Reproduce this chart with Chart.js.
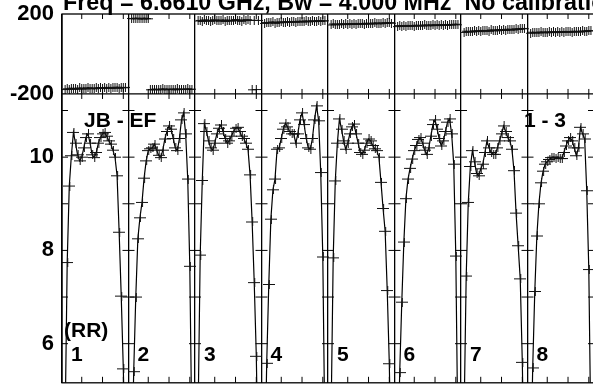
<!DOCTYPE html>
<html>
<head>
<meta charset="utf-8">
<script src="https://cdn.jsdelivr.net/npm/chart.js@4/dist/chart.umd.min.js"></script>
<style>
  html, body { margin: 0; padding: 0; background: #fff; overflow: hidden; }
  #wrap { position: absolute; left: 0; top: -20px; width: 600px; height: 408px; }
</style>
</head>
<body>
<div id="wrap"><canvas id="possm" width="600" height="408"></canvas></div>
<script>
// spectral channels shown in each IF (32 channels per IF)
const channels = [2, 3, 4, 5, 6, 7, 8, 9, 10, 11, 12, 13, 14, 15, 16, 17, 18, 19, 20, 21, 22, 23, 24, 25, 26, 27, 28, 29, 30, 31];
const ifLabels = ['1', '2', '3', '4', '5', '6', '7', '8'];
const ampTicks = [6, 8, 10];
const phaseTicks = [-200, 0, 200];

// amplitude per IF
const amp1 = [4.3, 7.74, 9.38, 10.03, 10.53, 10.3, 10.05, 9.92, 10.0, 10.2, 10.42, 10.5, 10.3, 10.05, 9.99, 10.1, 10.3, 10.42, 10.5, 10.53, 10.45, 10.35, 10.28, 10.15, 10.0, 9.6, 8.39, 7.02, 5.46, 3.5];
const amp2 = [3.0, 5.4, 7.0, 8.25, 8.7, 9.03, 9.55, 9.92, 10.14, 10.18, 10.2, 10.28, 10.15, 10.04, 9.99, 10.15, 10.39, 10.55, 10.67, 10.6, 10.4, 10.2, 10.14, 10.4, 10.8, 10.95, 10.5, 9.53, 7.66, 4.0];
const amp3 = [4.5, 7.9, 9.5, 10.72, 10.55, 10.35, 10.2, 10.15, 10.3, 10.5, 10.62, 10.69, 10.55, 10.4, 10.3, 10.35, 10.45, 10.55, 10.62, 10.64, 10.55, 10.45, 10.4, 10.3, 10.17, 9.62, 8.61, 7.31, 5.73, 3.0];
const amp4 = [3.0, 5.58, 7.27, 8.67, 9.3, 9.53, 10.17, 10.2, 10.4, 10.6, 10.73, 10.65, 10.55, 10.5, 10.5, 10.3, 10.5, 10.8, 10.95, 10.7, 10.4, 10.2, 10.17, 10.4, 10.8, 11.1, 10.78, 9.67, 7.86, 4.0];
const amp5 = [4.5, 7.84, 9.49, 10.3, 10.82, 10.6, 10.35, 10.17, 10.3, 10.5, 10.65, 10.71, 10.5, 10.3, 10.1, 10.06, 10.15, 10.3, 10.39, 10.35, 10.25, 10.18, 10.14, 10.0, 9.46, 8.9, 8.41, 7.14, 5.57, 3.0];
const amp6 = [3.0, 5.38, 6.89, 8.18, 9.11, 9.53, 9.76, 9.96, 10.14, 10.25, 10.38, 10.42, 10.3, 10.15, 10.06, 10.2, 10.45, 10.7, 10.8, 10.6, 10.4, 10.24, 10.35, 10.55, 10.75, 10.82, 10.5, 9.85, 7.88, 4.0];
const amp7 = [4.5, 7.45, 9.03, 9.8, 10.14, 9.9, 9.65, 9.6, 9.75, 9.85, 10.1, 10.35, 10.2, 10.1, 10.06, 10.06, 10.2, 10.35, 10.5, 10.67, 10.55, 10.42, 10.35, 10.17, 9.71, 8.8, 8.1, 7.39, 5.6, 3.0];
const amp8 = [3.0, 5.48, 7.12, 8.31, 9.0, 9.45, 9.7, 9.85, 9.9, 9.95, 9.99, 10.0, 9.98, 10.0, 9.97, 9.97, 10.1, 10.24, 10.35, 10.42, 10.35, 10.2, 10.03, 10.2, 10.64, 10.5, 10.39, 9.28, 7.59, 4.0];

// phase (degrees) per IF
const ph1 = [-178, -174, -177, -171, -175, -173, -176, -170, -174, -172, -175, -169, -173, -171, -174, -170, -172, -168, -173, -170, -171, -167, -172, -169, -170, -166, -171, -168, -169, -167];
const ph2 = [178, 176, 179, 177, 178, 175, 179, 177, 176, -179, -178, -176, -179, -177, -178, -175, -179, -176, -178, -177, -176, -179, -175, -178, -177, -176, -178, -175, -177, -176];
const ph3 = [165, 168, 163, 170, 166, 169, 164, 167, 171, 165, 168, 166, 170, 163, 167, 169, 165, 168, 172, 166, 169, 164, 170, 167, 171, 168, -179, 169, -178, 168];
const ph4 = [153, 158, 155, 157, 160, 154, 158, 156, 161, 157, 159, 162, 158, 160, 163, 159, 161, 164, 160, 162, 165, 161, 163, 166, 162, 164, 167, 163, 165, 166];
const ph5 = [145, 150, 147, 149, 146, 151, 148, 150, 147, 152, 149, 151, 148, 153, 150, 152, 149, 154, 151, 153, 150, 155, 152, 154, 151, 156, 153, 155, 157, 154];
const ph6 = [137, 142, 139, 141, 138, 143, 140, 142, 139, 144, 141, 143, 140, 145, 142, 144, 141, 146, 143, 145, 142, 147, 144, 146, 143, 148, 145, 147, 149, 146];
const ph7 = [108, 114, 111, 113, 110, 116, 113, 115, 112, 118, 115, 117, 114, 120, 117, 119, 116, 122, 119, 121, 118, 124, 121, 123, 120, 126, 123, 125, 128, 126];
const ph8 = [104, 109, 106, 108, 105, 110, 107, 109, 106, 111, 108, 110, 107, 112, 109, 111, 108, 113, 110, 112, 109, 114, 111, 113, 110, 115, 112, 114, 117, 115];

const ampByIf = [amp1, amp2, amp3, amp4, amp5, amp6, amp7, amp8];
const phByIf = [ph1, ph2, ph3, ph4, ph5, ph6, ph7, ph8];
const nChan = 32;
const FONT = '"Liberation Sans", Arial, Helvetica, sans-serif';

// "+" marker, wider than tall like the AIPS plot
function cross(w, h) {
  const c = document.createElement('canvas');
  c.width = w;
  c.height = h;
  const g = c.getContext('2d');
  g.fillStyle = '#111';
  g.fillRect(0, Math.floor(h / 2), w, 1);
  g.fillRect(Math.floor(w / 2), 0, 1, h);
  return c;
}
const ampMark = cross(12, 9);
const phMark = cross(9, 9);

function pts(i, vals) {
  return channels.map((c, k) => ({ x: i * nChan + c - 0.5, y: vals[k] }));
}

const datasets = [];
ifLabels.forEach((lab, i) => {
  datasets.push({
    label: 'amp IF ' + lab,
    yAxisID: 'amp',
    data: pts(i, ampByIf[i]),
    borderColor: '#000',
    borderWidth: 1.2,
    pointStyle: ampMark,
    pointRadius: 3,
    tension: 0
  });
  datasets.push({
    label: 'phase IF ' + lab,
    yAxisID: 'ph',
    data: pts(i, phByIf[i]),
    borderColor: '#000',
    borderWidth: 1.2,
    pointStyle: phMark,
    pointRadius: 3,
    tension: 0,
    segment: {
      borderColor: ctx => Math.abs(ctx.p0.parsed.y - ctx.p1.parsed.y) > 180 ? 'rgba(0,0,0,0)' : undefined
    }
  });
});

function seg(ctx, x1, y1, x2, y2) {
  ctx.beginPath();
  ctx.moveTo(x1, y1);
  ctx.lineTo(x2, y2);
  ctx.stroke();
}

// keep the y axes exactly 62px wide and stop them padding the chart area
function fixAxis(s) {
  s.width = 62;
  s.paddingTop = 0;
  s.paddingBottom = 0;
}

const framePlugin = {
  id: 'frame',
  afterDatasetsDraw(chart) {
    const { ctx, chartArea: a } = chart;
    const x = chart.scales.x, amp = chart.scales.amp;
    ctx.save();
    ctx.strokeStyle = '#000';
    ctx.lineWidth = 1.3;
    ctx.strokeRect(a.left, a.top, a.right - a.left, a.bottom - a.top);
    seg(ctx, a.left, amp.top, a.right, amp.top);

    // channel ticks every 10 channels
    ctx.lineWidth = 1;
    for (let i = 0; i < ifLabels.length; i++) {
      [10, 20, 30].forEach(c => {
        const px = x.getPixelForValue(i * nChan + c - 0.5);
        seg(ctx, px, a.bottom, px, a.bottom - 6);
        seg(ctx, px, a.top, px, a.top + 5);
        seg(ctx, px, amp.top - 5, px, amp.top + 5);
      });
    }
    // amplitude ticks on every IF border
    for (let v = 6; v <= 11; v++) {
      const py = amp.getPixelForValue(v);
      for (let b = 0; b <= ifLabels.length; b++) {
        const bx = x.getPixelForValue(b * nChan);
        seg(ctx, b === 0 ? bx : bx - 6, py, bx + 6, py);
      }
    }

    ctx.fillStyle = '#000';
    ctx.textBaseline = 'alphabetic';
    ctx.textAlign = 'left';
    ctx.font = 'bold 23.3px ' + FONT;
    ctx.fillText('Freq = 6.6610 GHz, Bw = 4.000 MHz  No calibration', 63, 30);

    ctx.font = 'bold 21px ' + FONT;
    ctx.fillText('JB - EF', 84, 147);
    ctx.fillText('1 - 3', 524, 147);
    ctx.fillText('(RR)', 64, 357);
    ifLabels.forEach((lab, i) => {
      ctx.fillText(lab, x.getPixelForValue(i * nChan) + 9, 381);
    });
    ctx.restore();
  }
};

new Chart(document.getElementById('possm'), {
  type: 'line',
  data: { datasets },
  options: {
    responsive: false,
    animation: false,
    events: [],
    devicePixelRatio: 1,
    layout: { padding: { top: 34, bottom: 2, left: 0, right: 6 } },
    plugins: { legend: { display: false }, tooltip: { enabled: false } },
    scales: {
      x: {
        type: 'linear',
        min: 0,
        max: nChan * ifLabels.length,
        afterBuildTicks: s => { s.ticks = ifLabels.concat(['']).map((l, b) => ({ value: b * nChan })); },
        afterFit: s => { s.height = 0; s.paddingLeft = 0; s.paddingRight = 0; },
        ticks: { display: false },
        grid: { color: '#000', lineWidth: 1.3, drawTicks: false },
        border: { display: false }
      },
      amp: {
        type: 'linear',
        position: 'left',
        stack: 'v',
        stackWeight: 289,
        weight: 1,
        min: 5.161,
        max: 11.355,
        afterBuildTicks: s => { s.ticks = ampTicks.map(v => ({ value: v })); },
        afterFit: fixAxis,
        ticks: { color: '#000', padding: 8, font: { family: FONT, size: 22, weight: 'bold' } },
        grid: { display: false, drawTicks: false },
        border: { display: false }
      },
      ph: {
        type: 'linear',
        position: 'left',
        stack: 'v',
        stackWeight: 80,
        weight: 2,
        min: -200,
        max: 200,
        afterBuildTicks: s => { s.ticks = phaseTicks.map(v => ({ value: v })); },
        afterFit: fixAxis,
        ticks: {
          color: '#000',
          padding: 8,
          font: { family: FONT, size: 22, weight: 'bold' },
          callback: v => (v === 0 ? '' : v)
        },
        grid: {
          drawTicks: false,
          lineWidth: 1.2,
          color: c => (c.tick && c.tick.value === 0 ? '#000' : 'rgba(0,0,0,0)')
        },
        border: { display: false }
      }
    }
  },
  plugins: [framePlugin]
});
</script>
</body>
</html>
